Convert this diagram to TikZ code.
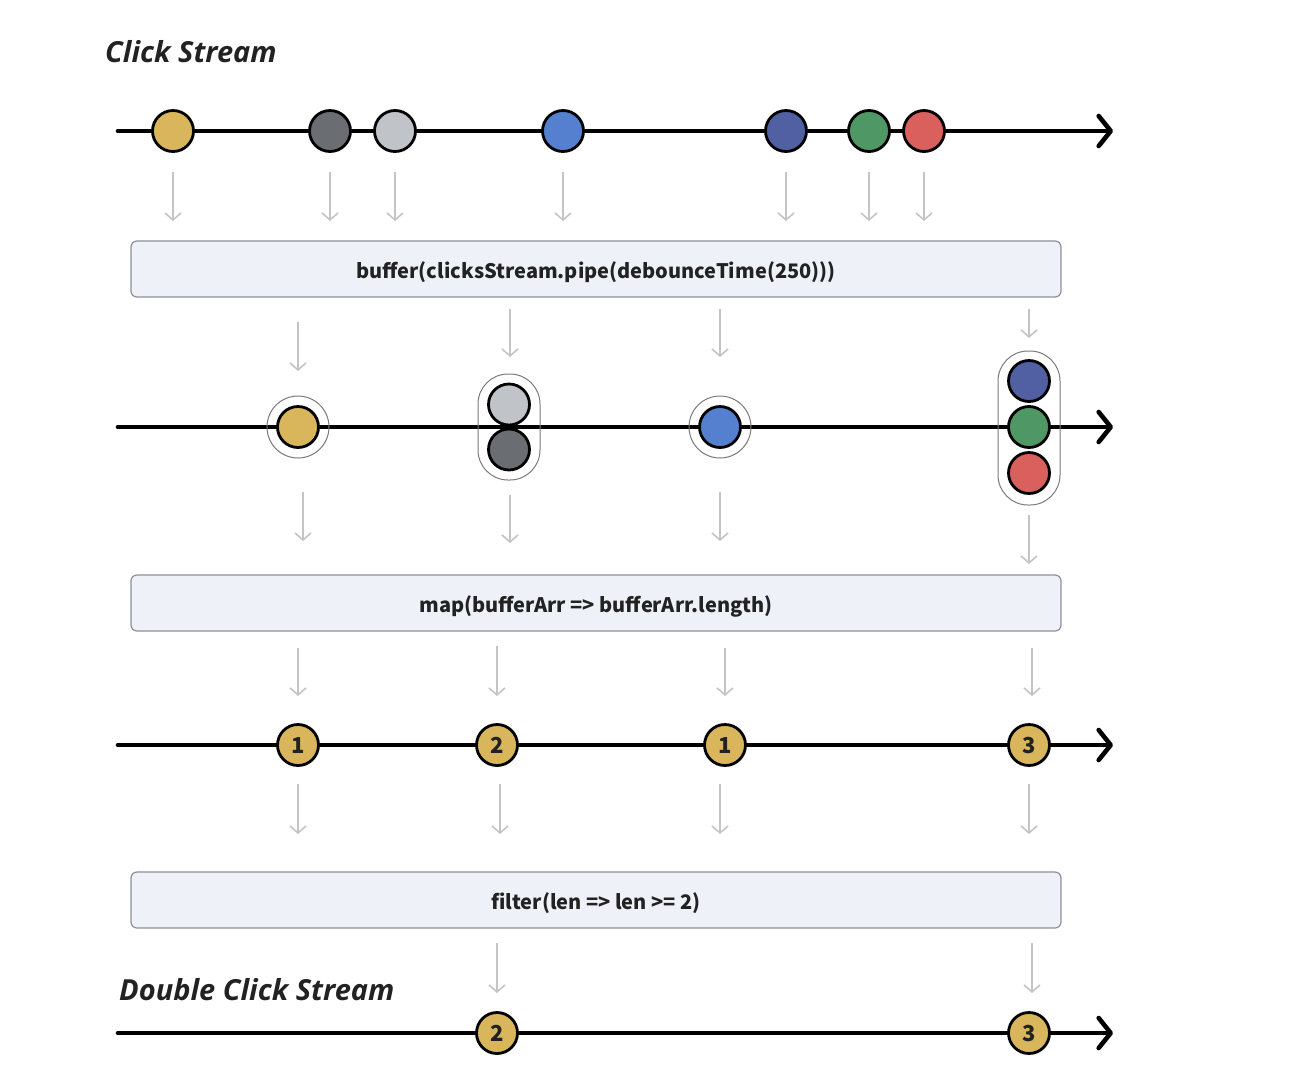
\documentclass[tikz,border=0pt]{standalone}
\usepackage{fontspec}
\setmainfont{Noto Sans CJK SC}
\newfontfamily\titlefont{Open Sans}
\usetikzlibrary{arrows.meta}
\definecolor{cyellow}{HTML}{D9B65C}
\definecolor{cdgray}{HTML}{6A6D72}
\definecolor{clgray}{HTML}{C0C3C7}
\definecolor{cblue}{HTML}{5580D0}
\definecolor{cnavy}{HTML}{5060A2}
\definecolor{cgreen}{HTML}{4F9866}
\definecolor{cred}{HTML}{D9605D}
\definecolor{garrow}{HTML}{C4C4C4}
\definecolor{boxfill}{HTML}{EEF2F8}
\definecolor{boxborder}{HTML}{8C9099}
\definecolor{ringc}{HTML}{7A7A7A}
\definecolor{txt}{HTML}{222222}
\newcommand{\lowtext}[1]{\raisebox{-3pt}[\height][\depth]{#1}}
\tikzset{
 mline/.style={line width=4.6pt, line cap=round, -{Straight Barb[length=12pt,width=30pt,round]}},
 ev/.style={circle, draw=black, line width=2.8pt, minimum size=41pt, inner sep=0pt, text=txt, font=\bfseries\fontsize{22}{22}\selectfont},
 gar/.style={draw=garrow, line width=1.6pt, -{Straight Barb[length=7pt,width=16pt]}},
 opbox/.style={draw=boxborder, fill=boxfill, rounded corners=6pt, line width=1.2pt, minimum width=930pt, minimum height=56pt, inner sep=0pt, text=txt, font=\bfseries\fontsize{20}{20}\selectfont},
 ringo/.style={circle, draw=ringc, line width=1pt, minimum size=62pt, inner sep=0pt},
 pill/.style={draw=ringc, line width=1pt, rounded corners=30pt, minimum width=62pt, inner sep=0pt},
 ttl/.style={font=\titlefont\bfseries\itshape\fontsize{29}{29}\selectfont, anchor=west, text=txt, inner sep=0pt}
}
\begin{document}
\begin{tikzpicture}[x=1pt,y=-1pt]
\useasboundingbox[fill=white] (0,0) rectangle (1296,1080);

% titles
\node[ttl] (t1) at (105,52) {Click Stream};
\node[ttl] (t2) at (119,990) {Double Click Stream};

% stream lines
\coordinate (l1s) at (118,131); \coordinate (l1e) at (1113,131);
\coordinate (l2s) at (118,427); \coordinate (l2e) at (1113,427);
\coordinate (l3s) at (118,745); \coordinate (l3e) at (1113,745);
\coordinate (l4s) at (118,1033); \coordinate (l4e) at (1113,1033);
\draw[mline] (l1s) -- (l1e);
\draw[mline] (l2s) -- (l2e);
\draw[mline] (l3s) -- (l3e);
\draw[mline] (l4s) -- (l4e);

% row 1 events
\node[ev, fill=cyellow] (a1) at (173,131) {};
\node[ev, fill=cdgray] (a2) at (330,131) {};
\node[ev, fill=clgray] (a3) at (395,131) {};
\node[ev, fill=cblue] (a4) at (563,131) {};
\node[ev, fill=cnavy] (a5) at (786,131) {};
\node[ev, fill=cgreen] (a6) at (869,131) {};
\node[ev, fill=cred] (a7) at (924,131) {};

% operator boxes
\node[opbox] (b1) at (596,269) {\lowtext{buffer(clicksStream.pipe(debounceTime(250)))}};
\node[opbox] (b2) at (596,603) {\lowtext{map(bufferArr => bufferArr.length)}};
\node[opbox] (b3) at (596,900) {\lowtext{filter(len => len >= 2)}};

% row 2 groups
\node[ringo] (r1) at (298,427) {};
\node[ev, fill=cyellow] (c1) at (298,427) {};
\node[pill, minimum height=106pt] (p2) at (509,427) {};
\node[ev, fill=clgray] (c2a) at (509,404.5) {};
\node[ev, fill=cdgray] (c2b) at (509,449.5) {};
\node[ringo] (r3) at (720,427) {};
\node[ev, fill=cblue] (c3) at (720,427) {};
\node[pill, minimum height=154pt] (p4) at (1029,428) {};
\node[ev, fill=cnavy] (c4a) at (1029,381) {};
\node[ev, fill=cgreen] (c4b) at (1029,427) {};
\node[ev, fill=cred] (c4c) at (1029,473) {};

% row 3
\node[ev, fill=cyellow] (d1) at (298,745) {1};
\node[ev, fill=cyellow] (d2) at (497,745) {2};
\node[ev, fill=cyellow] (d3) at (725,745) {1};
\node[ev, fill=cyellow] (d4) at (1029,745) {3};

% row 4
\node[ev, fill=cyellow] (e1) at (497,1033) {2};
\node[ev, fill=cyellow] (e2) at (1029,1033) {3};

% gray arrows
\foreach \n/\x/\ya/\yb in {
  g1/173/172/221, g2/330/172/221, g3/395/172/221, g4/563/172/221,
  g5/786/172/221, g6/869/172/221, g7/924/172/221,
  h1/298/322/371, h2/510/309/357, h3/720/309/357, h4/1029/309/338,
  i1/303/492/541, i2/510/495/543, i3/720/492/541, i4/1029/515/564,
  j1/298/648/696, j2/497/646/696, j3/725/648/696, j4/1032/648/696,
  k1/298/784/834, k2/500/784/834, k3/720/784/834, k4/1029/784/834,
  m1/497/943/993, m2/1032/943/993}{
  \coordinate (\n s) at (\x,\ya);
  \coordinate (\n e) at (\x,\yb);
  \draw[gar] (\n s) -- (\n e);
}
\end{tikzpicture}
\end{document}
